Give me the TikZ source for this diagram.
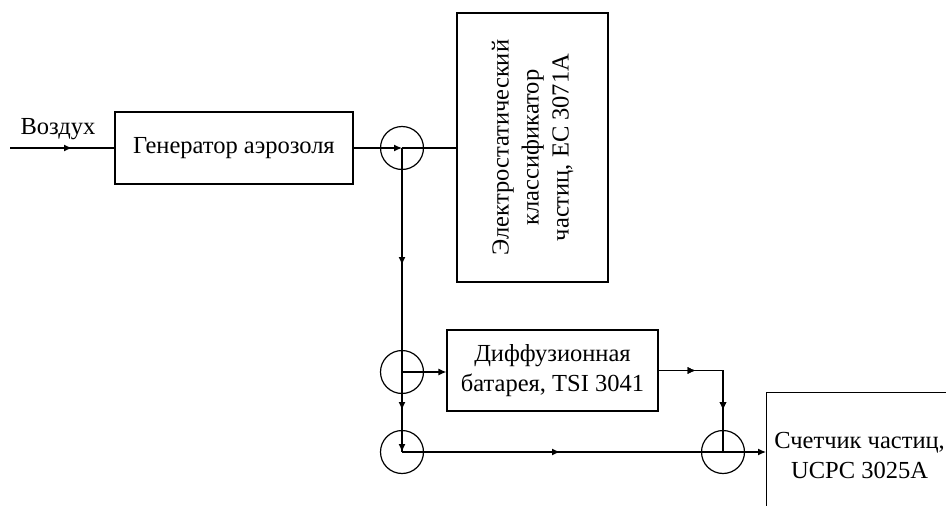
\documentclass[tikz,border=0pt]{standalone}
\usepackage{fontspec}
\setmainfont{Liberation Serif}
\usetikzlibrary{arrows.meta,decorations.markings,calc}
\begin{document}
\begin{tikzpicture}[x=1pt,y=1pt,
  every node/.style={font=\rmfamily\fontsize{24.5}{30}\selectfont},
  blk/.style={draw,line width=1.2pt,inner sep=0pt,align=center},
  junc/.style={draw,circle,line width=1.2pt,minimum size=43pt,inner sep=0pt},
  wire/.style={line width=1.2pt},
  tip/.style={-{Latex[length=8pt,width=7pt]}},
  midarr/.style={postaction={decorate},decoration={markings,mark=at position #1 with {\arrow{Latex[length=8pt,width=7pt]}}}}
]
\useasboundingbox (0,0) rectangle (946,-506);
% blocks
\node[blk,minimum width=238pt,minimum height=72pt] (gen) at (234,-148) {Генератор аэрозоля};
\node[blk,rotate=90,minimum width=269pt,minimum height=151pt] (cls) at (532.5,-147.5)
  {Электростатический\\классификатор\\частиц, EC 3071A};
\node[blk,minimum width=211pt,minimum height=81pt] (diff) at (552.5,-370.5)
  {Диффузионная\\батарея, TSI 3041};
\node[blk,anchor=north west,minimum width=186pt,minimum height=126pt] (cnt) at (766,-392)
  {Счетчик частиц,\\UCPC 3025A};
% junctions
\node[junc] (c1) at (402,-148) {};
\node[junc] (c2) at (402,-372) {};
\node[junc] (c3) at (402,-452) {};
\node[junc] (c4) at (723,-452) {};
% input
\coordinate (in) at (10,-148);
\node (air) at (58,-129) {Воздух};
\draw[wire,midarr=62pt] (in) -- (gen.west);
% connectors
\draw[wire,tip] (gen.east) -- (c1.center);
\draw[wire] (c1.center) -- (c1.center -| cls.north);
\draw[wire,tip,midarr=117pt] (c1.center) -- (c2.center) -- (c3.center);
\draw[wire,postaction={decorate},decoration={markings,mark=at position 262pt with {\arrow{Latex[length=8pt,width=7pt]}}}] (c1.center) -- (c3.center);
\draw[wire,tip] (c2.center) -- (c2.center -| diff.west);
\draw[wire,midarr=158pt] (c3.center) -- (c4.center);
\draw[wire,midarr=37pt,postaction={decorate},decoration={markings,mark=at position 104pt with {\arrow{Latex[length=8pt,width=7pt]}}}] (diff.east) -| (c4.center);
\draw[wire,tip] (c4.center) -- (c4.center -| cnt.west);
\end{tikzpicture}
\end{document}
